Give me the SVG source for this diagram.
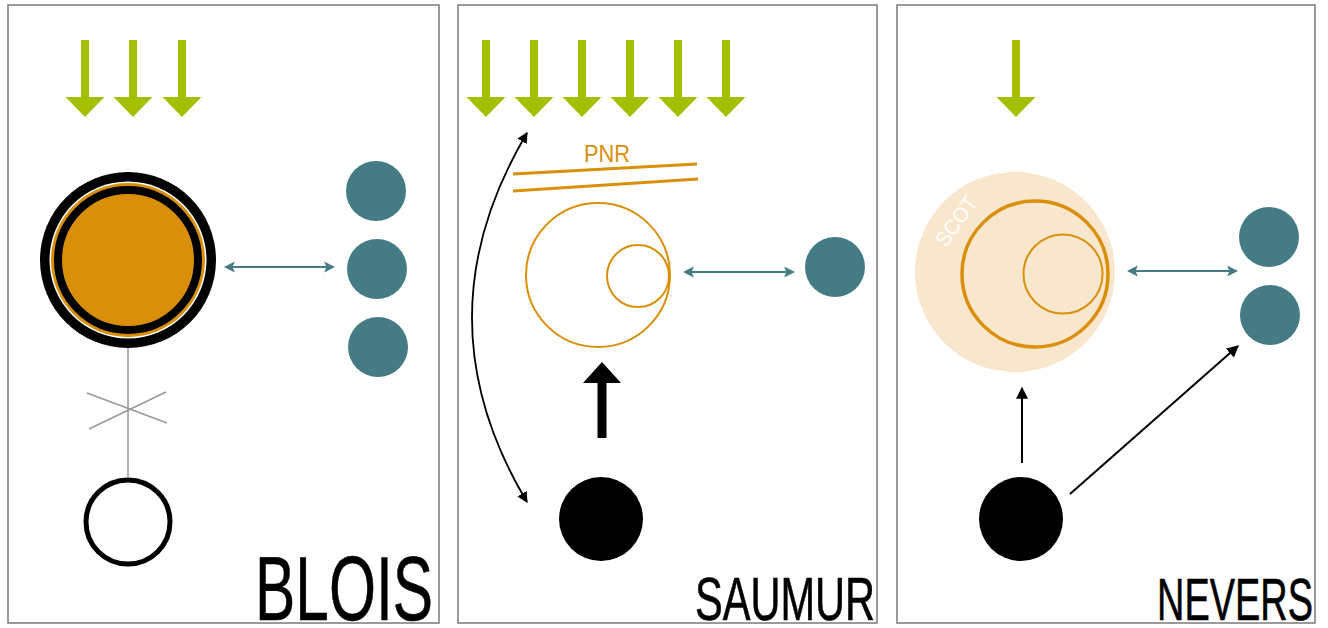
<svg xmlns="http://www.w3.org/2000/svg" width="1328" height="628" viewBox="0 0 1328 628">
<defs>
<style>
.panel{fill:#fff;stroke:#7a7a7a;stroke-width:1.5}
.green{fill:#a5be00}
.teal{fill:#457b84}
.tealline{stroke:#457b84;stroke-width:2;fill:none}
.orange{stroke:#da8f0a;fill:none}
.blk{stroke:#000;fill:none}
.label{font-family:"Liberation Sans",Arial,sans-serif;fill:#000;stroke:#000;stroke-width:0.6}
</style>
<marker id="th" viewBox="0 0 10 10" refX="8" refY="5" markerWidth="5.5" markerHeight="6" markerUnits="strokeWidth" orient="auto-start-reverse">
<path d="M0,0 L10,5 L0,10 L2,5 Z" fill="#457b84"/>
</marker>
<marker id="bh" viewBox="0 0 10 10" refX="9" refY="5" markerWidth="6" markerHeight="6" markerUnits="strokeWidth" orient="auto-start-reverse">
<path d="M0,0 L10,5 L0,10 Z" fill="#000"/>
</marker>
<path id="garrow" d="M-4,0 H4 V57 H19.5 L0,77 L-19.5,57 H-4 Z"/>
</defs>
<rect width="1328" height="628" fill="#fff"/>

<g id="panel-blois">
<rect class="panel" x="8" y="5" width="431" height="618"/>
<g class="green">
<use href="#garrow" x="85" y="40"/>
<use href="#garrow" x="133" y="40"/>
<use href="#garrow" x="182" y="40"/>
</g>
<g id="blois-main">
<circle cx="128" cy="260" r="88" fill="#000"/>
<circle cx="128" cy="260" r="78.5" fill="#fff"/>
<circle cx="128" cy="260" r="77" fill="#da8f0a"/>
<circle cx="128" cy="260" r="70" fill="#da8f0a" stroke="#000" stroke-width="8"/>
</g>
<g id="blois-teal">
<circle class="teal" cx="376" cy="191" r="30"/>
<circle class="teal" cx="377" cy="269" r="30"/>
<circle class="teal" cx="378" cy="347" r="30"/>
</g>
<g id="blois-bottom">
<circle cx="128" cy="522" r="42" fill="none" stroke="#000" stroke-width="5"/>
</g>
<text class="label" x="433" y="620" font-size="90" text-anchor="end" textLength="178" lengthAdjust="spacingAndGlyphs">BLOIS</text>
</g>

<g id="panel-saumur">
<rect class="panel" x="458" y="5" width="419" height="618"/>
<g class="green">
<use href="#garrow" x="486" y="40"/>
<use href="#garrow" x="534" y="40"/>
<use href="#garrow" x="582" y="40"/>
<use href="#garrow" x="630" y="40"/>
<use href="#garrow" x="678" y="40"/>
<use href="#garrow" x="726" y="40"/>
</g>
<g id="saumur-pnr">
<text x="607" y="162" font-family="Liberation Sans, Arial, sans-serif" font-size="24" fill="#da8f0a" text-anchor="middle" textLength="46" lengthAdjust="spacingAndGlyphs">PNR</text>
<line class="orange" stroke-width="3" x1="513" y1="174" x2="697" y2="164"/>
<line class="orange" stroke-width="3" x1="513" y1="191" x2="698" y2="179"/>
</g>
<g id="saumur-main">
<circle class="orange" stroke-width="2" cx="598" cy="275" r="72"/>
<circle class="orange" stroke-width="2" cx="638" cy="276" r="31"/>
</g>
<g id="saumur-teal"><circle class="teal" cx="835" cy="267" r="30"/></g>
<g id="saumur-bottom"><circle cx="601" cy="519" r="42" fill="#000"/></g>
<path d="M597.5,438 V383 H583 L602,362 L621,383 H606.5 V438 Z" fill="#000"/>
<text class="label" x="875" y="620" font-size="61" text-anchor="end" textLength="180" lengthAdjust="spacingAndGlyphs">SAUMUR</text>
</g>

<g id="panel-nevers">
<rect class="panel" x="897" y="5" width="418" height="618"/>
<g class="green"><use href="#garrow" x="1016" y="40"/></g>
<g id="nevers-main">
<circle cx="1015" cy="272" r="100" fill="#f8e7cd"/>
<text x="956" y="221" font-family="Liberation Sans, Arial, sans-serif" font-size="21" fill="#fff" text-anchor="middle" dominant-baseline="central" transform="rotate(-55 956 221)" textLength="56" lengthAdjust="spacingAndGlyphs">SCOT</text>
<circle class="orange" stroke-width="3.5" cx="1035" cy="274" r="73"/>
<circle class="orange" stroke-width="2" cx="1063" cy="274" r="39.5"/>
</g>
<g id="nevers-teal">
<circle class="teal" cx="1269" cy="237" r="30"/>
<circle class="teal" cx="1270" cy="315" r="30"/>
</g>
<g id="nevers-bottom"><circle cx="1021" cy="519" r="42" fill="#000"/></g>
<text class="label" x="1313" y="620" font-size="59" text-anchor="end" textLength="156" lengthAdjust="spacingAndGlyphs">NEVERS</text>
</g>

<g id="connectors">
<line class="tealline" x1="226" y1="267" x2="333" y2="267" marker-start="url(#th)" marker-end="url(#th)"/>
<line x1="128" y1="348" x2="128" y2="477" stroke="#999" stroke-width="1.5"/>
<line x1="87" y1="393" x2="167" y2="423" stroke="#999" stroke-width="1.5"/>
<line x1="89" y1="429" x2="166" y2="392" stroke="#999" stroke-width="1.5"/>
<path d="M527,133 Q417,318 527,502" fill="none" stroke="#000" stroke-width="1.8" marker-start="url(#bh)" marker-end="url(#bh)"/>
<line class="tealline" x1="685" y1="272" x2="793" y2="272" marker-start="url(#th)" marker-end="url(#th)"/>
<line class="tealline" x1="1129" y1="271" x2="1236" y2="271" marker-start="url(#th)" marker-end="url(#th)"/>
<line x1="1022" y1="463" x2="1022" y2="388" stroke="#000" stroke-width="2" marker-end="url(#bh)"/>
<line x1="1070" y1="494" x2="1238" y2="346" stroke="#000" stroke-width="2" marker-end="url(#bh)"/>
</g>
</svg>
